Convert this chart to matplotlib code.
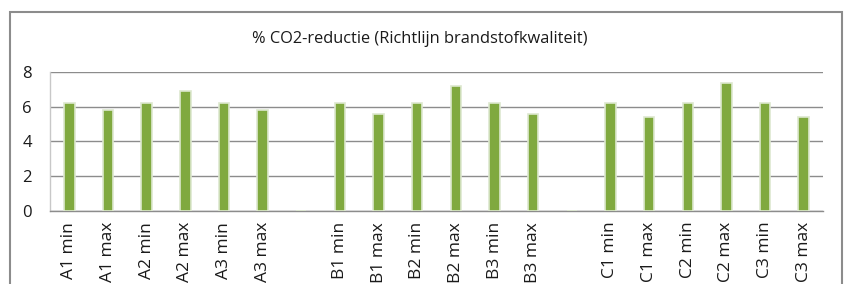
import matplotlib
matplotlib.use("Agg")
import matplotlib.pyplot as plt
from matplotlib.patches import Rectangle

# categorieën (lege plekken scheiden de groepen A, B en C)
CATEGORIES = ["A1 min", "A1 max", "A2 min", "A2 max", "A3 min", "A3 max", "",
              "B1 min", "B1 max", "B2 min", "B2 max", "B3 min", "B3 max", "",
              "C1 min", "C1 max", "C2 min", "C2 max", "C3 min", "C3 max"]
VALUES = [6.2, 5.8, 6.2, 6.9, 6.2, 5.8, None,
          6.2, 5.6, 6.2, 7.2, 6.2, 5.6, None,
          6.2, 5.4, 6.2, 7.4, 6.2, 5.4]
Y_TICKS = [0, 2, 4, 6, 8]
TITLE = "% CO2-reductie (Richtlijn brandstofkwaliteit)"

plt.rcParams["font.family"] = ["Open Sans", "DejaVu Sans"]

fig = plt.figure(figsize=(8.45, 2.84), dpi=100)
ax = fig.add_axes([0.0592, 0.258, 0.9148, 0.4876])

x = list(range(len(CATEGORIES)))
heights = [v if v is not None else 0 for v in VALUES]
ax.bar(x, heights, width=0.27, color="#80A93F", edgecolor="#DDE8CF",
       linewidth=1.2, zorder=3)

ax.set_xlim(-0.5, len(CATEGORIES) - 0.5)
ax.set_ylim(0, 8)
ax.set_yticks(Y_TICKS)
ax.set_yticklabels([str(t) for t in Y_TICKS], fontsize=12)
ax.set_xticks(x)
ax.set_xticklabels(CATEGORIES, rotation=90, fontsize=12.5)
ax.tick_params(axis="both", length=0, colors="#1A1A1A")
ax.tick_params(axis="y", pad=13)
ax.tick_params(axis="x", pad=8)

ax.grid(axis="y", color="#8C8C8C", linewidth=1.0, zorder=0)
for side in ("right", "top"):
    ax.spines[side].set_visible(False)
ax.spines["left"].set_color("#C8C8C8")
ax.spines["left"].set_linewidth(1.0)
ax.spines["bottom"].set_color("#8C8C8C")
ax.spines["bottom"].set_linewidth(1.0)

fig.text(0.497, 0.862, TITLE, ha="center", va="center", fontsize=11.8, color="#1A1A1A")

# kader rond de grafiek
fig.patches.append(Rectangle((0.0118, -0.1), 0.9846, 1.0577, transform=fig.transFigure,
                             fill=False, edgecolor="#8C8C8C", linewidth=1.5))

fig.savefig("out.png", dpi=100)
